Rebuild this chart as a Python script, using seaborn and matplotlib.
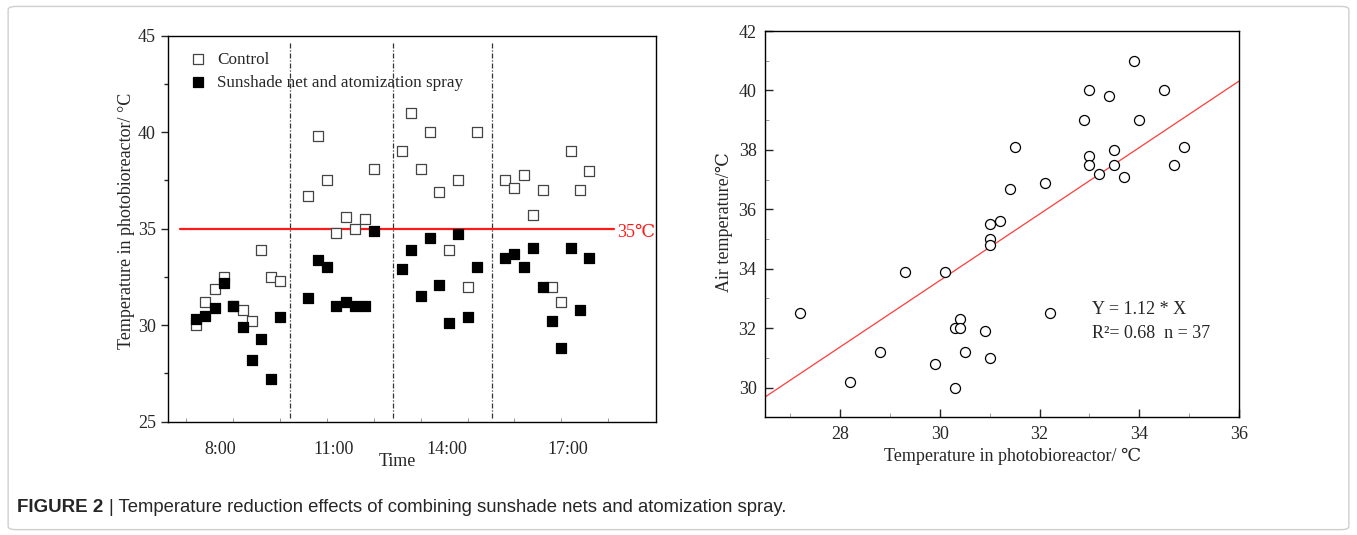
import numpy as np
import pandas as pd
import matplotlib
matplotlib.use("Agg")
import matplotlib.pyplot as plt
import seaborn as sns
from matplotlib.patches import FancyBboxPatch
from matplotlib.ticker import MultipleLocator, FixedLocator

# -------------------------------
# Data
# -------------------------------
group_sizes = [10, 8, 9, 10]
group_starts = [0, 12, 22, 33]
time_labels = ["8:00", "11:00", "14:00", "17:00"]
time_label_pos = [2.6, 14.7, 26.8, 39.7]
divider_pos = [10.0, 21.0, 31.65]

control = [30.0, 31.2, 31.9, 32.5, 31.0, 30.8, 30.2, 33.9, 32.5, 32.3,
           36.7, 39.8, 37.5, 34.8, 35.6, 35.0, 35.5, 38.1,
           39.0, 41.0, 38.1, 40.0, 36.9, 33.9, 37.5, 32.0, 40.0,
           37.5, 37.1, 37.8, 35.7, 37.0, 32.0, 31.2, 39.0, 37.0, 38.0]
shade = [30.3, 30.5, 30.9, 32.2, 31.0, 29.9, 28.2, 29.3, 27.2, 30.4,
         31.4, 33.4, 33.0, 31.0, 31.2, 31.0, 31.0, 34.9,
         32.9, 33.9, 31.5, 34.5, 32.1, 30.1, 34.7, 30.4, 33.0,
         33.5, 33.7, 33.0, 34.0, 32.0, 30.2, 28.8, 34.0, 30.8, 33.5]

reactor_temp = [27.2, 28.2, 28.8, 29.3, 29.9, 30.1, 30.3, 30.3, 30.4, 30.4,
                30.5, 30.9, 31.0, 31.0, 31.0, 31.0, 31.2, 31.4, 31.5, 32.1,
                32.2, 32.9, 33.0, 33.0, 33.0, 33.2, 33.4, 33.5, 33.5, 33.7,
                33.9, 34.0, 34.5, 34.7, 34.9]
air_temp = [32.5, 30.2, 31.2, 33.9, 30.8, 33.9, 30.0, 32.0, 32.3, 32.0,
            31.2, 31.9, 31.0, 35.5, 35.0, 34.8, 35.6, 36.7, 38.1, 36.9,
            32.5, 39.0, 40.0, 37.8, 37.5, 37.2, 39.8, 38.0, 37.5, 37.1,
            41.0, 39.0, 40.0, 37.5, 38.1]
slope = 1.12
threshold = 35

x_idx = np.concatenate([np.arange(s, s + n) for s, n in zip(group_starts, group_sizes)])
df_left = pd.DataFrame({"x": x_idx, "Control": control, "Shade": shade})
df_right = pd.DataFrame({"reactor": reactor_temp, "air": air_temp})

# -------------------------------
# Style
# -------------------------------
sns.set_theme(style="ticks")
plt.rcParams["font.family"] = ["Liberation Serif", "DejaVu Serif"]
plt.rcParams["font.size"] = 13
plt.rcParams["axes.linewidth"] = 1.0

FS = 13

fig = plt.figure(figsize=(13.57, 5.35), dpi=100)
fig.patch.set_facecolor("white")

# frame around whole figure
fig.patches.append(FancyBboxPatch((0.006, 0.01), 0.988, 0.978,
                                  boxstyle="round,pad=0,rounding_size=0.006",
                                  transform=fig.transFigure, fill=False,
                                  edgecolor="#cfcfcf", linewidth=1.0))

# -------------------------------
# Left panel: temperature over time
# -------------------------------
ax1 = fig.add_axes([0.1236, 0.2118, 0.3598, 0.7215])
sns.scatterplot(data=df_left, x="x", y="Control", ax=ax1, marker="s", s=44,
                color="white", edgecolor="#444444", linewidth=0.9,
                label="Control", zorder=3)
sns.scatterplot(data=df_left, x="x", y="Shade", ax=ax1, marker="s", s=44,
                color="black", edgecolor="black", linewidth=0.9,
                label="Sunshade net and atomization spray", zorder=4)

for xd in divider_pos:
    ax1.plot([xd, xd], [25.2, 44.6], color="#333333", lw=0.9,
             ls=(0, (4, 1.5, 1, 1.5)), zorder=2)

ax1.plot([-1.7, 44.6], [threshold, threshold], color="#ff1a1a", lw=1.6, zorder=2)
ax1.text(45.0, 34.8, "35℃", color="#ff1a1a", fontsize=FS, va="center", ha="left")

ax1.set_xlim(-3, 49.1)
ax1.set_ylim(25, 45)
ax1.yaxis.set_major_locator(MultipleLocator(5))
ax1.yaxis.set_minor_locator(MultipleLocator(2.5))
ax1.set_xticks(time_label_pos)
ax1.set_xticklabels(time_labels)
ax1.xaxis.set_minor_locator(FixedLocator([-1, 4, 9, 14, 19, 24, 29, 34, 39, 44]))
ax1.tick_params(axis="x", which="major", length=0, pad=14, labelsize=FS)
ax1.tick_params(axis="x", which="minor", direction="in", length=3, width=0.6, color="#888888")
ax1.tick_params(axis="y", which="major", direction="out", length=5, width=1, labelsize=FS)
ax1.tick_params(axis="y", which="minor", direction="out", length=3, width=1)
ax1.set_xlabel("Time", fontsize=FS)
ax1.xaxis.set_label_coords(0.47, -0.08)
ax1.set_ylabel("Temperature in photobioreactor/ °C", fontsize=FS)
ax1.yaxis.set_label_coords(-0.068, 0.52)
for sp in ax1.spines.values():
    sp.set_visible(True)
    sp.set_color("black")

leg = ax1.legend(loc="upper left", bbox_to_anchor=(0.02, 0.985), frameon=False,
                 handletextpad=0.5, handlelength=1.2, labelspacing=0.4,
                 fontsize=12.3, borderaxespad=0.2, markerscale=1.1)

# -------------------------------
# Right panel: air vs reactor temperature
# -------------------------------
ax2 = fig.add_axes([0.5637, 0.22, 0.3495, 0.722])
sns.scatterplot(data=df_right, x="reactor", y="air", ax=ax2, marker="o", s=52,
                color="white", edgecolor="black", linewidth=0.9, zorder=3)
xfit = np.array([26.5, 36])
ax2.plot(xfit, slope * xfit, color="#ff3b3b", lw=0.9, zorder=2)

ax2.set_xlim(26.5, 36)
ax2.set_ylim(29, 42)
ax2.xaxis.set_major_locator(MultipleLocator(2))
ax2.xaxis.set_minor_locator(MultipleLocator(1))
ax2.yaxis.set_major_locator(MultipleLocator(2))
ax2.yaxis.set_minor_locator(MultipleLocator(1))
ax2.tick_params(which="major", direction="in", length=6, width=1, labelsize=FS, pad=6)
ax2.tick_params(which="minor", direction="in", length=3, width=0.6, color="#888888")
ax2.set_xlabel("Temperature in photobioreactor/ ℃", fontsize=FS)
ax2.xaxis.set_label_coords(0.523, -0.078)
ax2.set_ylabel("Air temperature/℃", fontsize=FS)
ax2.yaxis.set_label_coords(-0.068, 0.505)
for sp in ax2.spines.values():
    sp.set_visible(True)
    sp.set_color("black")

ax2.text(33.05, 32.64, "Y = 1.12 * X", fontsize=FS, va="center", ha="left")
ax2.text(33.05, 31.83, "R²= 0.68  n = 37", fontsize=FS, va="center", ha="left")

# -------------------------------
# Caption
# -------------------------------
fig.text(17 / 1357, 1 - 508 / 535, "FIGURE 2", fontsize=13.5, fontweight="bold",
         family=["Liberation Sans", "DejaVu Sans"], va="center", ha="left")
fig.text(109 / 1357, 1 - 508 / 535,
         "| Temperature reduction effects of combining sunshade nets and atomization spray.",
         fontsize=13.3, family=["Liberation Sans", "DejaVu Sans"], va="center", ha="left")

fig.savefig("out.png", dpi=100)
